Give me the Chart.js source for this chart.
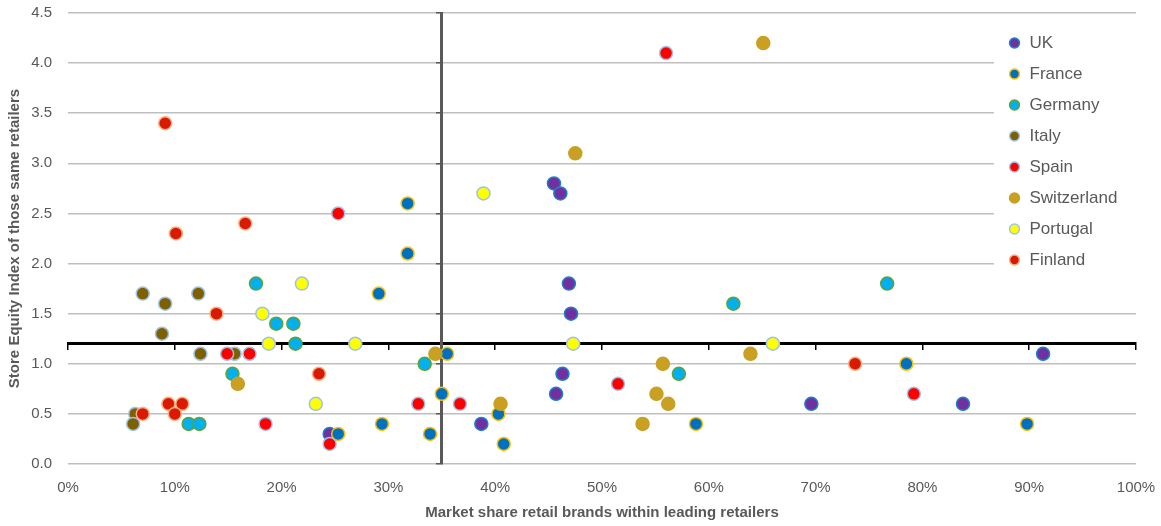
<!DOCTYPE html>
<html>
<head>
<meta charset="utf-8">
<title>Store equity vs retail brand share</title>
<script src="https://cdn.jsdelivr.net/npm/chart.js@4.4.1/dist/chart.umd.min.js"></script>
<style>
  html, body { margin: 0; padding: 0; background: #fff; }
</style>
</head>
<body>
<canvas id="scatter" width="1161" height="526"></canvas>
<script>
const countries = ['UK', 'France', 'Germany', 'Italy', 'Spain', 'Switzerland', 'Portugal', 'Finland']

// market share of retail brands within leading retailers (%)
const ukShare = [24.5, 38.7, 45.5, 46.1, 46.9, 47.1, 46.3, 45.7, 69.6, 83.8, 91.3]
const franceShare = [29.1, 29.4, 25.3, 31.8, 31.8, 35.5, 35.0, 33.9, 40.3, 40.8, 58.8, 78.5, 89.8]
const germanyShare = [17.6, 19.5, 21.1, 21.3, 15.4, 11.3, 12.3, 33.4, 62.3, 76.7, 57.2]
const italyShare = [7.0, 9.1, 8.8, 12.2, 12.4, 15.6, 6.3, 6.1]
const spainShare = [25.3, 14.9, 17.0, 18.5, 24.5, 32.8, 36.7, 56.0, 51.5, 79.2]
const swissShare = [15.9, 34.4, 47.5, 65.1, 40.5, 55.7, 55.1, 56.2, 53.8, 63.9]
const portugalShare = [21.9, 18.2, 18.8, 26.9, 23.2, 38.9, 47.3, 66.0]
const finlandShare = [9.1, 10.1, 16.6, 13.9, 23.5, 9.4, 10.7, 10.0, 7.0, 73.7]

// store equity index of those same retailers
const ukEquity = [0.3, 0.4, 2.8, 2.7, 1.8, 1.5, 0.9, 0.7, 0.6, 0.6, 1.1]
const franceEquity = [1.7, 0.4, 0.3, 2.6, 2.1, 1.1, 0.7, 0.3, 0.5, 0.2, 0.4, 1.0, 0.4]
const germanyEquity = [1.8, 1.4, 1.4, 1.2, 0.9, 0.4, 0.4, 1.0, 1.6, 1.8, 0.9]
const italyEquity = [1.7, 1.6, 1.3, 1.7, 1.1, 1.1, 0.5, 0.4]
const spainEquity = [2.5, 1.1, 1.1, 0.4, 0.2, 0.6, 0.6, 4.1, 0.8, 0.7]
const swissEquity = [0.8, 1.1, 3.1, 4.2, 0.6, 1.0, 0.7, 0.6, 0.4, 1.1]
const portugalEquity = [1.8, 1.5, 1.2, 1.2, 0.6, 2.7, 1.2, 1.2]
const finlandEquity = [3.4, 2.3, 2.4, 1.5, 0.9, 0.6, 0.6, 0.5, 0.5, 1.0]

// where the two axes cross
const crossShare = 35
const crossEquity = 1.2

const shares = [ukShare, franceShare, germanyShare, italyShare, spainShare, swissShare, portugalShare, finlandShare]
const equities = [ukEquity, franceEquity, germanyEquity, italyEquity, spainEquity, swissEquity, portugalEquity, finlandEquity]

const fillColors = ['#7030A0', '#0070C0', '#00B0F0', '#7F6000', '#FF0000', '#C9A022', '#FFFF00', '#DA1A00']
const edgeColors = ['#1C7FCE', '#FFC000', '#5FA332', '#9DC3E6', '#9DC3E6', '#C9A022', '#9DC3E6', '#F4B183']

const fontFamily = "'Liberation Sans', Arial, sans-serif"
const textGray = '#595959'
const gridGray = '#BFBFBF'
const legendFontSize = 17
const legendPadding = 14
const legendWidth = 142

Chart.defaults.font.family = fontFamily
Chart.defaults.color = textGray

// legend sits inside the plot, top right, like the Excel original
const legendPlacer = {
  id: 'legendPlacer',
  afterLayout(chart) {
    const lg = chart.legend
    const area = chart.chartArea
    lg.left = area.right - legendWidth
    lg.top = area.top + 7.5
    lg.right = lg.left + lg.width
    lg.bottom = lg.top + lg.height
  },
}

// gridlines that run behind the legend stop where the legend box starts
function gridColor(context) {
  const chart = context.chart
  const area = chart.chartArea
  const lg = chart.legend
  if (!area || !lg || !context.tick) return gridGray
  const y = context.scale.getPixelForValue(context.tick.value)
  const boxBottom = lg.top + countries.length * (legendFontSize + legendPadding) + legendPadding
  if (y < lg.top || y > boxBottom) return gridGray
  const stop = (area.width - legendWidth) / area.width
  const g = chart.ctx.createLinearGradient(area.left, 0, area.right, 0)
  g.addColorStop(0, gridGray)
  g.addColorStop(stop, gridGray)
  g.addColorStop(stop, 'rgba(255,255,255,0)')
  g.addColorStop(1, 'rgba(255,255,255,0)')
  return g
}

const datasets = countries.map((name, i) => ({
  label: name,
  data: shares[i].map((x, j) => ({ x, y: equities[i][j] })),
  backgroundColor: fillColors[i],
  borderColor: edgeColors[i],
  pointRadius: 6.5,
  pointHoverRadius: 6.5,
  pointBorderWidth: 1.5,
  xAxisID: 'x',
  yAxisID: 'y',
  // later series on top, as in the original
  order: countries.length - i,
}))

const noPadding = (s) => {
  s.paddingLeft = 0
  s.paddingRight = 0
  s.paddingTop = 0
  s.paddingBottom = 0
}

new Chart(document.getElementById('scatter'), {
  type: 'scatter',
  data: { datasets },
  plugins: [legendPlacer],
  options: {
    responsive: false,
    animation: false,
    layout: { autoPadding: false, padding: { top: 13, right: 25, bottom: 0, left: 0 } },
    plugins: {
      tooltip: { enabled: false },
      legend: {
        position: 'chartArea',
        align: 'start',
        labels: {
          usePointStyle: true,
          pointStyle: 'circle',
          boxWidth: 13,
          boxHeight: 7,
          padding: legendPadding,
          color: textGray,
          font: { size: legendFontSize },
          sort: (a, b) => a.datasetIndex - b.datasetIndex,
        },
      },
    },
    scales: {
      x: {
        type: 'linear',
        position: 'bottom',
        min: 0,
        max: 100,
        afterFit: (s) => { s.height = 62; noPadding(s) },
        ticks: { stepSize: 10, padding: 7, font: { size: 15 }, callback: (v) => v + '%' },
        grid: { display: false },
        border: { display: false },
        title: {
          display: true,
          text: 'Market share retail brands within leading retailers',
          font: { size: 15, weight: 'bold' },
          padding: { top: 0, bottom: 4 },
        },
      },
      y: {
        type: 'linear',
        position: 'left',
        min: 0,
        max: 4.5,
        afterFit: (s) => { s.width = 68; noPadding(s) },
        ticks: { stepSize: 0.5, padding: 16, font: { size: 15 }, callback: (v) => v.toFixed(1) },
        grid: { color: gridColor, lineWidth: 1.5, drawTicks: false },
        border: { display: false },
        title: {
          display: true,
          text: 'Store Equity Index of those same retailers',
          font: { size: 15, weight: 'bold' },
          padding: { top: 6, bottom: 0 },
        },
      },
      xCross: {
        type: 'linear',
        axis: 'x',
        position: { y: crossEquity },
        min: 0,
        max: 100,
        afterFit: noPadding,
        ticks: { display: false, stepSize: 10 },
        grid: { drawOnChartArea: false, drawTicks: true, tickLength: 5, color: '#000', lineWidth: 1.5 },
        border: { color: '#000', width: 3 },
      },
      yCross: {
        type: 'linear',
        axis: 'y',
        position: { x: crossShare },
        min: 0,
        max: 4.5,
        afterFit: noPadding,
        ticks: { display: false, stepSize: 0.5 },
        grid: { drawOnChartArea: false, drawTicks: true, tickLength: 4, color: '#595959', lineWidth: 1.5 },
        border: { color: '#595959', width: 3 },
      },
    },
  },
})
</script>
</body>
</html>
